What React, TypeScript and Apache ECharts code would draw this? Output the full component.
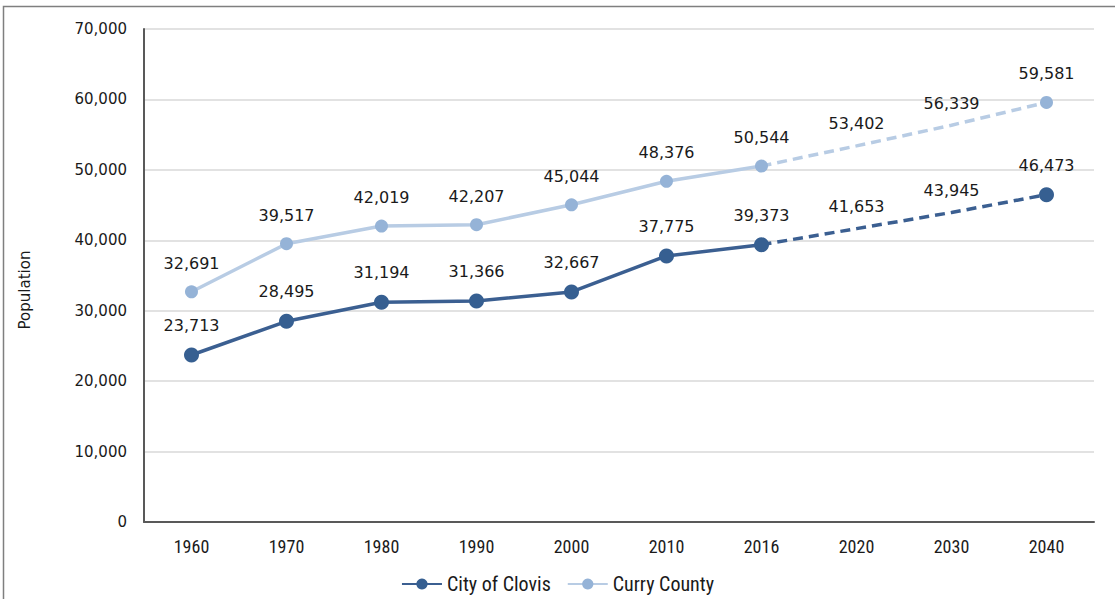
import React, { useEffect, useRef } from "react";
import * as echarts from "echarts";

const years = ["1960", "1970", "1980", "1990", "2000", "2010", "2016", "2020", "2030", "2040"];
const clovis = [23713, 28495, 31194, 31366, 32667, 37775, 39373, 41653, 43945, 46473];
const curry = [32691, 39517, 42019, 42207, 45044, 48376, 50544, 53402, 56339, 59581];
const lastActualIndex = 6;
const noMarkerYears = ["2020", "2030"];

const CLOVIS_LINE = "#3B5F91";
const CLOVIS_MARK = "#365F91";
const CURRY_LINE = "#B8CCE4";
const CURRY_MARK = "#95B3D7";
const FONT = "'DejaVu Sans', sans-serif";
const NARROW = "'Liberation Sans Narrow', 'Roboto Condensed', 'DejaVu Sans Condensed', sans-serif";

function actual(vals: number[]) {
  return vals.map((v, i) => (i <= lastActualIndex ? v : null));
}
function projected(vals: number[]) {
  return vals.map((v, i) => {
    if (i < lastActualIndex) return null;
    if (i === lastActualIndex) return { value: v, symbolSize: 0.01, label: { show: false } };
    if (noMarkerYears.includes(years[i])) return { value: v, symbolSize: 0.01 };
    return v;
  });
}

export default function App() {
  const ref = useRef<HTMLDivElement>(null);
  useEffect(() => {
    if (!ref.current) return;
    const chart = echarts.init(ref.current, null, { renderer: "svg" });
    const label = {
      show: true,
      position: "top",
      distance: 14,
      color: "#1a1a1a",
      fontSize: 16,
      fontFamily: FONT,
      formatter: (p: any) => Number(p.value).toLocaleString("en-US"),
    };
    chart.setOption({
      animation: false,
      backgroundColor: "#ffffff",
      graphic: [
        {
          type: "rect",
          shape: { x: 3.5, y: 6.5, width: 1300, height: 800 },
          style: { fill: "none", stroke: "#7f7f7f", lineWidth: 1.5 },
          silent: true,
        },
        {
          type: "text",
          x: 25,
          y: 290,
          rotation: Math.PI / 2,
          style: {
            text: "Population",
            fontSize: 15,
            fontFamily: FONT,
            fill: "#1a1a1a",
            align: "center",
            verticalAlign: "middle",
          },
          silent: true,
        },
      ],
      grid: { left: 144, right: 21, top: 29, bottom: 77, containLabel: false },
      legend: {
        bottom: 0,
        left: "center",
        data: ["City of Clovis", "Curry County"],
        itemWidth: 40,
        itemHeight: 14,
        itemGap: 16,
        textStyle: { fontSize: 20, fontFamily: NARROW, color: "#1a1a1a" },
      },
      xAxis: {
        type: "category",
        data: years,
        boundaryGap: true,
        axisLine: { lineStyle: { color: "#595959", width: 2 } },
        axisTick: { show: false },
        axisLabel: { fontSize: 18, fontFamily: NARROW, color: "#1a1a1a", margin: 15 },
      },
      yAxis: {
        type: "value",
        min: 0,
        max: 70000,
        interval: 10000,
        axisLine: { show: true, lineStyle: { color: "#595959", width: 2 } },
        axisTick: { show: false },
        splitLine: { lineStyle: { color: "#D9D9D9", width: 1.5 } },
        axisLabel: {
          fontSize: 15,
          fontFamily: FONT,
          color: "#1a1a1a",
          margin: 17,
          formatter: (v: number) => v.toLocaleString("en-US"),
        },
      },
      series: [
        {
          name: "City of Clovis",
          type: "line",
          data: actual(clovis),
          symbol: "circle",
          symbolSize: 15,
          lineStyle: { color: CLOVIS_LINE, width: 3.5 },
          itemStyle: { color: CLOVIS_MARK },
          label,
          z: 3,
        },
        {
          name: "Clovis projection",
          type: "line",
          data: projected(clovis),
          symbol: "circle",
          symbolSize: 15,
          lineStyle: { color: CLOVIS_LINE, width: 3.5, type: [10, 6] },
          itemStyle: { color: CLOVIS_MARK },
          label,
          z: 2,
        },
        {
          name: "Curry County",
          type: "line",
          data: actual(curry),
          symbol: "circle",
          symbolSize: 13,
          lineStyle: { color: CURRY_LINE, width: 3.5 },
          itemStyle: { color: CURRY_MARK },
          label,
          z: 3,
        },
        {
          name: "Curry projection",
          type: "line",
          data: projected(curry),
          symbol: "circle",
          symbolSize: 13,
          lineStyle: { color: CURRY_LINE, width: 3.5, type: [10, 6] },
          itemStyle: { color: CURRY_MARK },
          label,
          z: 2,
        },
      ],
    });
    return () => chart.dispose();
  }, []);
  return (
    <div
      ref={ref}
      style={{ position: "fixed", left: 0, top: 0, width: 1115, height: 599, background: "#fff" }}
    />
  );
}
